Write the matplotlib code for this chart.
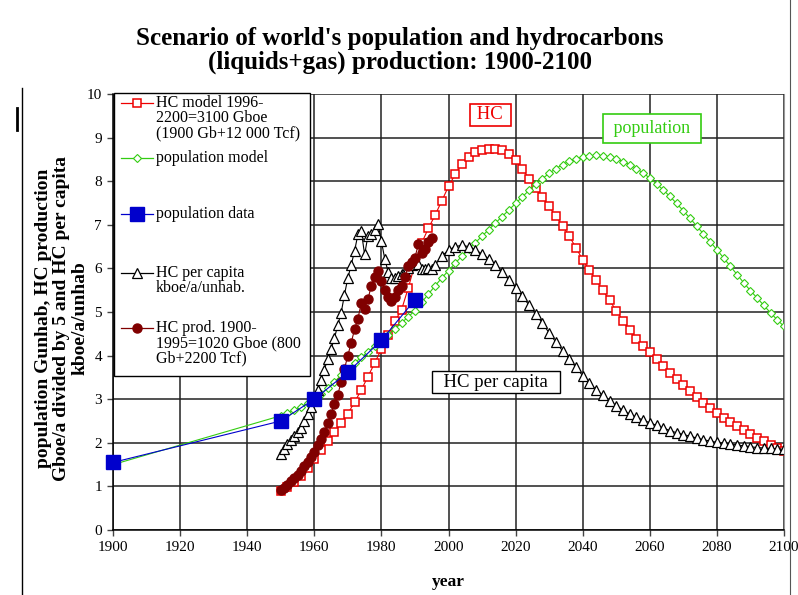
import matplotlib.pyplot as plt
from matplotlib.patches import Rectangle

plt.rcParams['font.family'] = ['Liberation Serif', 'DejaVu Serif']

# population data (Ginhab)
pop_data_years = [1900, 1950, 1960, 1970, 1980, 1990]
pop_data = [1.55, 2.50, 3.00, 3.62, 4.35, 5.28]

# population model
pop_model_years = [1900] + list(range(1950, 2101, 2))
pop_model = [1.50,
             2.62, 2.68, 2.75, 2.83, 2.91, 3.00, 3.12, 3.26, 3.40, 3.55,
             3.70, 3.83, 3.96, 4.09, 4.22, 4.35, 4.48, 4.61, 4.75, 4.89,
             5.03, 5.22, 5.41, 5.60, 5.78, 5.95, 6.12, 6.28, 6.44, 6.59,
             6.74, 6.89, 7.04, 7.19, 7.34, 7.49, 7.64, 7.79, 7.93, 8.06,
             8.18, 8.29, 8.38, 8.46, 8.52, 8.56, 8.58, 8.59, 8.58, 8.55,
             8.51, 8.45, 8.38, 8.29, 8.19, 8.07, 7.94, 7.80, 7.65, 7.49,
             7.32, 7.15, 6.97, 6.79, 6.61, 6.43, 6.24, 6.05, 5.86, 5.67,
             5.49, 5.32, 5.15, 4.98, 4.82, 4.67]

# HC model 1996-2200 (Gboe/5)
hc_model_years = list(range(1950, 2101, 2))
hc_model = [0.90, 0.98, 1.10, 1.25, 1.43, 1.63, 1.83, 2.03, 2.24, 2.45,
            2.67, 2.93, 3.21, 3.52, 3.83, 4.15, 4.47, 4.79, 5.05, 5.55,
            6.10, 6.58, 6.92, 7.22, 7.55, 7.88, 8.16, 8.40, 8.56, 8.66,
            8.72, 8.75, 8.75, 8.71, 8.63, 8.48, 8.28, 8.06, 7.84, 7.63,
            7.42, 7.20, 6.98, 6.74, 6.47, 6.20, 5.96, 5.73, 5.50, 5.27,
            5.03, 4.80, 4.58, 4.39, 4.23, 4.08, 3.92, 3.76, 3.60, 3.46,
            3.32, 3.18, 3.04, 2.92, 2.80, 2.69, 2.58, 2.48, 2.38, 2.29,
            2.20, 2.11, 2.03, 1.96, 1.89, 1.82]

# HC per capita (kboe/a/inhab)
hc_cap_years = list(range(1950, 1996)) + list(range(1996, 2101, 2))
hc_cap = [1.75, 1.85, 1.97, 2.07, 2.15, 2.25, 2.35, 2.50, 2.66, 2.82,
          3.02, 3.22, 3.45, 3.68, 3.92, 4.15, 4.40, 4.70, 4.98, 5.40,
          5.78, 6.08, 6.40, 6.78, 6.85, 6.32, 6.75, 6.80, 6.88, 7.02,
          6.62, 6.22, 5.92, 5.78, 5.78, 5.82, 5.88, 5.95, 6.02, 6.08,
          6.15, 6.10, 5.98, 5.98, 6.02, 5.98,
          6.08, 6.28, 6.42, 6.50, 6.53, 6.50, 6.43, 6.33, 6.22, 6.07,
          5.92, 5.74, 5.56, 5.36, 5.16, 4.96, 4.74, 4.52, 4.31, 4.11,
          3.92, 3.73, 3.54, 3.37, 3.22, 3.09, 2.96, 2.85, 2.75, 2.66,
          2.59, 2.52, 2.46, 2.40, 2.34, 2.28, 2.23, 2.19, 2.15, 2.11,
          2.07, 2.04, 2.01, 1.99, 1.97, 1.95, 1.93, 1.91, 1.89, 1.88,
          1.87, 1.86, 1.85]

# HC production 1900-1995 (Gboe/5)
hc_prod_years = list(range(1950, 1996))
hc_prod = [0.92, 0.97, 1.04, 1.12, 1.19, 1.27, 1.35, 1.47, 1.57, 1.68,
           1.80, 1.95, 2.08, 2.25, 2.45, 2.65, 2.90, 3.10, 3.40, 3.70,
           4.00, 4.30, 4.60, 4.85, 5.20, 5.08, 5.30, 5.60, 5.80, 5.95,
           5.70, 5.50, 5.35, 5.25, 5.35, 5.50, 5.60, 5.80, 6.05, 6.15,
           6.25, 6.55, 6.35, 6.45, 6.60, 6.70]

RED = '#ee0000'
GREEN = '#33cc11'
BLUE = '#0000cc'
DARKRED = '#800000'

fig = plt.figure(figsize=(7.98, 5.95), dpi=100)
ax = fig.add_axes([113 / 798, 65 / 595, 671 / 798, 436 / 595])

ax.plot(hc_model_years, hc_model, color=RED, lw=0.8, marker='s', ms=6,
        mfc='white', mec=RED, mew=1.1)
ax.plot(pop_model_years, pop_model, color=GREEN, lw=0.8, marker='D', ms=3.8,
        mfc='white', mec=GREEN, mew=0.8)
ax.plot(pop_data_years, pop_data, color=BLUE, lw=0.8, marker='s', ms=9.5,
        mfc=BLUE, mec=BLUE, clip_on=False, zorder=4)
ax.plot(hc_cap_years, hc_cap, color='black', lw=0.8, marker='^', ms=6.5,
        mfc='white', mec='black', mew=0.9)
ax.plot(hc_prod_years, hc_prod, color=DARKRED, lw=0.8, marker='o', ms=6.5,
        mfc=DARKRED, mec=DARKRED)

ax.set_xlim(1900, 2100)
ax.set_ylim(0, 10)
ax.set_xticks(range(1900, 2101, 20))
ax.set_yticks(range(0, 11))
ax.grid(True, color='#222222', lw=1.1)
ax.set_axisbelow(True)
ax.tick_params(labelsize=11, length=4, width=1, color='#444444', pad=4)
for s in ['left', 'bottom']:
    ax.spines[s].set_color('black')
    ax.spines[s].set_linewidth(1.1)
ax.spines['top'].set_visible(False)
ax.spines['right'].set_color('#999999')

ax.set_xlabel('year', fontsize=12.5, fontweight='bold', labelpad=14)
ax.set_ylabel('population Gunhab, HC production\nGboe/a divided by 5 and HC per capita\nkboe/a/unhab',
              fontsize=14, fontweight='bold', linespacing=1.08)
ax.yaxis.set_label_coords(-0.037, 0.486)

fig.text(0.501, 0.915, "Scenario of world's population and hydrocarbons\n(liquids+gas) production: 1900-2100",
         ha='center', va='center', fontsize=18, fontweight='bold', linespacing=1.05)

# annotation boxes
ax.text(2012.4, 9.52, ' HC ', color=RED, fontsize=13.5, ha='center', va='center',
        bbox=dict(boxstyle='square,pad=0.15', fc='white', ec=RED, lw=1.2))
ax.text(2060.7, 9.21, ' population ', color=GREEN, fontsize=13, ha='center', va='center',
        bbox=dict(boxstyle='square,pad=0.35', fc='white', ec=GREEN, lw=1.2))
ax.text(2014.2, 3.39, '  HC per capita  ', color='black', fontsize=13.5, ha='center', va='center',
        bbox=dict(boxstyle='square,pad=0.12', fc='white', ec='black', lw=1.0))

# legend drawn Excel-style: marker on first text line
ax.add_patch(Rectangle((0.0015, 0.353), 0.292, 0.65, transform=ax.transAxes,
                       fc='white', ec='black', lw=1.0, zorder=5, clip_on=False))
leg_labels = ['HC model 1996-\n2200=3100 Gboe\n(1900 Gb+12 000 Tcf)',
              'population model',
              'population data',
              'HC per capita\nkboe/a/unhab.',
              'HC prod. 1900-\n1995=1020 Gboe (800\nGb+2200 Tcf)']
leg_styles = [dict(color=RED, marker='s', ms=6, mfc='white', mec=RED, mew=1.1),
              dict(color=GREEN, marker='D', ms=4, mfc='white', mec=GREEN, mew=0.8),
              dict(color=BLUE, marker='s', ms=9.5, mfc=BLUE, mec=BLUE),
              dict(color='black', marker='^', ms=6.5, mfc='white', mec='black', mew=0.9),
              dict(color=DARKRED, marker='o', ms=6.5, mfc=DARKRED, mec=DARKRED)]
leg_y = [0.979, 0.853, 0.725, 0.589, 0.463]
for lab, st, yy in zip(leg_labels, leg_styles, leg_y):
    ax.plot([0.0119, 0.0596], [yy, yy], transform=ax.transAxes, lw=0.9,
            color=st['color'], clip_on=False, zorder=6)
    ax.plot([0.0358], [yy], transform=ax.transAxes, ls='none', clip_on=False,
            zorder=7, **{k: v for k, v in st.items() if k != 'color'})
    for i, line in enumerate(lab.split('\n')):
        ax.text(0.064, yy - i * 0.0345, line, transform=ax.transAxes,
                fontsize=11.5, va='center', ha='left', zorder=7)

# outer frame lines of the original sheet
fig.add_artist(plt.Line2D([22 / 798, 22 / 798], [0, 507 / 595], color='black', lw=1.0))
fig.add_artist(plt.Line2D([17 / 798, 17 / 798], [465 / 595, 487 / 595], color='black', lw=2.0))
fig.add_artist(plt.Line2D([790 / 798, 790 / 798], [0, 1], color='#555555', lw=0.8))

fig.savefig('out.png', dpi=100)
